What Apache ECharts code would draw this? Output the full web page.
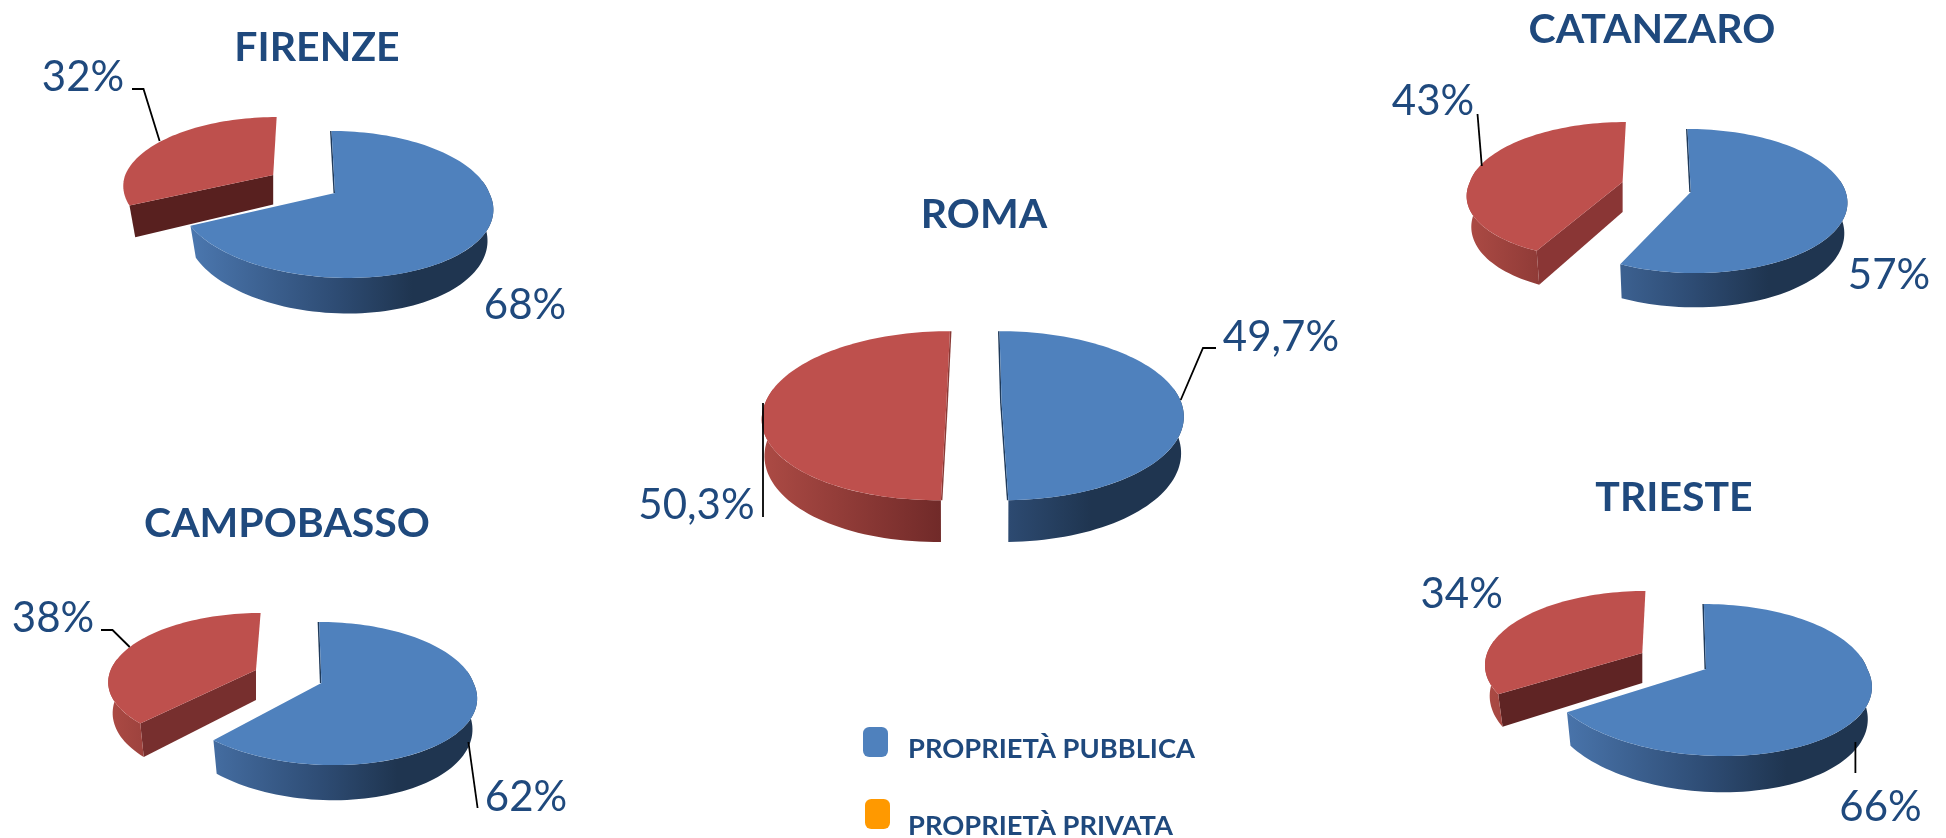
<!DOCTYPE html>
<html>
<head>
<meta charset="utf-8">
<style>html,body{margin:0;padding:0;background:#fff}#c{width:1946px;height:838px}</style>
<script src="https://cdn.jsdelivr.net/npm/echarts@6/dist/echarts.min.js"></script>
</head>
<body>
<div id="c"></div>
<script>
// ---- data ----
const cities = ['FIRENZE', 'ROMA', 'CATANZARO', 'CAMPOBASSO', 'TRIESTE'];
const pubblica = [68, 49.7, 57, 62, 66];
const privata = [32, 50.3, 43, 38, 34];
const legendNames = ['PROPRIETÀ PUBBLICA', 'PROPRIETÀ PRIVATA'];

// ---- layout (perspective disc of each slice), separate from the data ----
// x,y apex; rx,ry radii; p perspective; s,q shear; d depth; sh bottom-ring shrink; face colour of the cut side
const blueLayout = [
  {x:335,y:193,rx:154.3,ry:71.7,p:.156,s:4,q:7,d:30,sh:.963},
  {x:1001.6,y:403,rx:179.8,ry:82.6,p:.15,s:2.4,q:0,d:35.5,sh:.985,endSliver:true},
  {x:1690.8,y:192,rx:154.9,ry:70.9,p:.125,s:3.7,q:0,d:30,sh:.98},
  {x:321.4,y:683,rx:152.1,ry:70,p:.147,s:2.6,q:8,d:30,sh:.97},
  {x:1706,y:669,rx:161.3,ry:74.4,p:.145,s:2.4,q:12.5,d:31,sh:.975}
];
const redLayout = [
  {x:273.2,y:175,rx:148,ry:67,p:.156,s:-4,q:3.4,d:29.5,sh:.96,face:'#58201f',noWall:true},
  {x:946.4,y:403,rx:181.2,ry:82.6,p:.15,s:-4.1,q:-4,d:35.5,sh:.985,face:'#8a3a36',sliver:true},
  {x:1622.6,y:182,rx:152.7,ry:67.5,p:.125,s:-3.7,q:-8.7,d:30,sh:.97,face:'#8a3635'},
  {x:256,y:670,rx:145.3,ry:65.4,p:.147,s:-5.3,q:0,d:30,sh:.97,face:'#772f2e'},
  {x:1642.3,y:653,rx:155.1,ry:71,p:.145,s:-3.6,q:0,d:30,sh:.97,face:'#5f2424'}
];
const blueLabelPos = [[525,305],[1281,337],[1889,275],[526,797],[1880.5,807]];
const redLabelPos = [[83,77],[696.5,505],[1433,101],[53,618],[1461.6,594]];
const blueLeaders = [null,[[1216,348],[1203,348],[1180.7,400]],null,[[468.4,742],[477.6,808]],[[1855.4,742],[1855.4,773]]];
const redLeaders = [[[132,89],[143.5,89],[159.6,141]],[[763,403],[763,517]],[[1477.5,114],[1481.8,166]],[[101,630],[112.5,630],[129.7,647]],null];
const titleCenters = [[317,49],[984,216],[1652,31],[287,525],[1674,499]];

const TEXT = '#1F497D', FONT = 'Lato';
const BLUE = {top:'#4F81BD', wall:['#4d7ab3','#2e4c74','#1f3550'], cut:'#1f3a5a'};
const RED  = {top:'#BE504D', wall:['#ab4a44','#6f2928','#6a2726'], cut:'#8a3a36'};

function project(L, deg, bottom) {
  const a = deg * Math.PI / 180, u = Math.sin(a), v = -Math.cos(a);
  const k = 1 / (1 - L.p * v);
  let x = L.x + (L.rx * u + L.s * v + L.q * Math.max(v, 0)) * k;
  let y = L.y + L.ry * v * k;
  if (bottom) { x = L.x + (x - L.x) * L.sh; y += L.d * k; }
  return [x, y];
}
function arc(L, from, to, bottom) {
  const pts = [], n = Math.max(2, Math.ceil(Math.abs(to - from) / 2));
  for (let i = 0; i <= n; i++) pts.push(project(L, from + (to - from) * i / n, bottom));
  return pts;
}
function poly(points, fill) {
  return {type:'polygon', shape:{points}, style:{fill, stroke:null}, silent:true};
}
function sliver(L, deg, dx, fill) {
  const r = project(L, deg, false), a = [L.x, L.y];
  return poly([r, a, [a[0] + dx, a[1]], [r[0] + dx, r[1]]], fill);
}
function sliceGroup(i, from, to, L, C, labelPos, leader, value) {
  const kids = [];
  if (L.face) {
    const tip = project(L, from, false), tipB = project(L, from, true);
    if (!L.sliver) kids.push(poly([[L.x, L.y], tip, tipB, [L.x, L.y + L.d]], L.face));
  }
  const a = Math.max(from, 80), b = Math.min(to, 280);
  if (b > a && !L.noWall) {
    const grad = new echarts.graphic.LinearGradient(L.x - L.rx, 0, L.x + L.rx * 0.5, 0, [
      {offset:0, color:C.wall[0]}, {offset:0.667, color:C.wall[1]}, {offset:1, color:C.wall[2]}
    ], true);
    kids.push(poly(arc(L, a, b, false).concat(arc(L, b, a, true)), grad));
  }
  if (L.sliver) { kids.push(sliver(L, to, 1.5, C.cut), sliver(L, from, 1.5, C.cut)); }
  if (C === BLUE) kids.push(sliver(L, from, -1.5, C.cut));
  if (L.endSliver) kids.push(sliver(L, to, -1.5, C.cut));
  kids.push(poly([[L.x, L.y]].concat(arc(L, from, to, false)), C.top));
  if (leader) kids.push({type:'polyline', shape:{points:leader}, style:{stroke:'#000', lineWidth:1.8, fill:null}, silent:true});
  kids.push({type:'text', silent:true, x:labelPos[0], y:labelPos[1], style:{
    text:String(value).replace('.', ',') + '%', fill:TEXT, font:'400 42px ' + FONT, align:'center', verticalAlign:'middle'
  }});
  return {type:'group', children:kids};
}

function legendText(padTop, padLeft) {
  return {rich:{t:{color:TEXT, fontFamily:FONT, fontWeight:'bold', fontSize:27.3, padding:[padTop,0,0,padLeft]}}};
}
const chart = echarts.init(document.getElementById('c'), null, {renderer:'canvas'});
chart.setOption({
  animation:false,
  backgroundColor:'#fff',
  title: cities.map((c, i) => ({
    text:c, left:titleCenters[i][0], top:titleCenters[i][1] - 22, textAlign:'center',
    padding:0,
    textStyle:{color:TEXT, fontFamily:FONT, fontWeight:'bold', fontSize:41}
  })),
  legend:[
    {data:[{name:legendNames[0], itemStyle:{color:'#4F81BD'}}], left:863, top:727, itemWidth:25, itemHeight:30, icon:'roundRect', selectedMode:false, padding:0, itemGap:0,
     formatter:'{t|{name}}', textStyle:legendText(14,15)},
    {data:[{name:legendNames[1], itemStyle:{color:'#FF9900'}}], left:865, top:799, itemWidth:25, itemHeight:30, icon:'roundRect', selectedMode:false, padding:0, itemGap:0,
     formatter:'{t|{name}}', textStyle:legendText(24,13)}
  ],
  series:[
    {name:legendNames[1], type:'custom', coordinateSystem:'none', itemStyle:{color:'#FF9900'},
     data:privata.map((v, i) => [i, v]),
     renderItem:(p, api) => {
       const i = api.value(0), v = api.value(1);
       return sliceGroup(i, (100 - v) * 3.6, 360, redLayout[i], RED, redLabelPos[i], redLeaders[i], v);
     }},
    {name:legendNames[0], type:'custom', coordinateSystem:'none', itemStyle:{color:'#4F81BD'},
     data:pubblica.map((v, i) => [i, v]),
     renderItem:(p, api) => {
       const i = api.value(0), v = api.value(1);
       return sliceGroup(i, 0, v * 3.6, blueLayout[i], BLUE, blueLabelPos[i], blueLeaders[i], v);
     }}
  ]
});
</script>
</body>
</html>
